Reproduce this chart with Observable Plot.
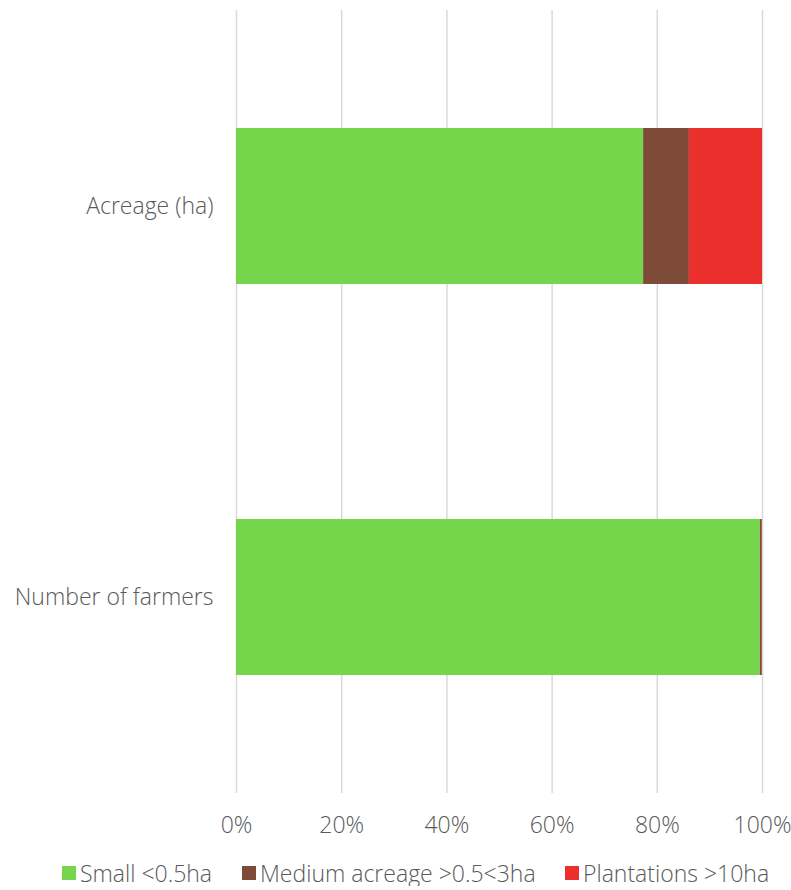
<!DOCTYPE html>
<html>
<head>
<meta charset="utf-8">
<script src="https://cdn.jsdelivr.net/npm/d3@7"></script>
<script src="https://cdn.jsdelivr.net/npm/@observablehq/plot@0.6"></script>
<style>
  html, body { margin: 0; padding: 0; background: #fff; overflow: hidden; }
  body { width: 791px; font-family: "Open Sans", Lato, sans-serif; font-weight: 300; color: #595959; }
  #chart svg { display: block; }
  #legend { display: flex; padding-left: 62px; margin-top: 10px; font-size: 23px; line-height: 26px; white-space: nowrap; }
  .item { display: flex; align-items: center; }
  .sw { width: 14px; height: 14px; margin-right: 4px; display: inline-block; flex: none; }
</style>
</head>
<body>
<div id="chart"></div>
<div id="legend"></div>
<script>
const categories = ["Acreage (ha)", "Number of farmers"];
const seriesNames = ["Small <0.5ha", "Medium acreage >0.5<3ha", "Plantations >10ha"];
const seriesColors = ["#75d64c", "#7e4b39", "#eb2f2c"];
const smallValues = [77.4, 99.6];
const mediumValues = [8.7, 0.35];
const plantationValues = [13.9, 0.05];
const xTicks = [0, 20, 40, 60, 80, 100];

const seriesValues = [smallValues, mediumValues, plantationValues];
const rows = [];
seriesNames.forEach((s, si) => {
  categories.forEach((c, ci) => {
    rows.push({category: c, series: s, value: seriesValues[si][ci]});
  });
});

const chart = Plot.plot({
  width: 791,
  height: 850,
  marginTop: 10,
  marginBottom: 57,
  marginLeft: 236,
  marginRight: 29,
  style: {fontFamily: "'Open Sans', Lato, sans-serif", fontSize: "23px", fontWeight: 300, color: "#595959", background: "#fff"},
  x: {domain: [0, 100], ticks: xTicks, tickFormat: d => d + "%", tickSize: 0, tickPadding: 23, label: null},
  y: {domain: categories, paddingInner: 0.6, paddingOuter: 0.3, tickSize: 0, tickPadding: 23, label: null},
  color: {domain: seriesNames, range: seriesColors},
  marks: [
    Plot.gridX(xTicks, {stroke: "#d9d9d9", strokeOpacity: 1, strokeWidth: 1.5}),
    Plot.barX(rows, Plot.stackX({y: "category", x: "value", fill: "series", order: seriesNames})),
    Plot.axisX({ticks: xTicks, tickFormat: d => d + "%", tickSize: 0, tickPadding: 23, fontSize: 23, label: null}),
    Plot.axisY({tickSize: 0, tickPadding: 23, fontSize: 23, label: null})
  ]
});
document.getElementById("chart").appendChild(chart);

const itemWidths = [180, 323, null];
const legend = document.getElementById("legend");
seriesNames.forEach((s, i) => {
  const it = document.createElement("div");
  it.className = "item";
  if (itemWidths[i]) it.style.width = itemWidths[i] + "px";
  const sw = document.createElement("span");
  sw.className = "sw";
  sw.style.background = seriesColors[i];
  it.appendChild(sw);
  const t = document.createElement("span");
  t.textContent = s;
  it.appendChild(t);
  legend.appendChild(it);
});
</script>
</body>
</html>
